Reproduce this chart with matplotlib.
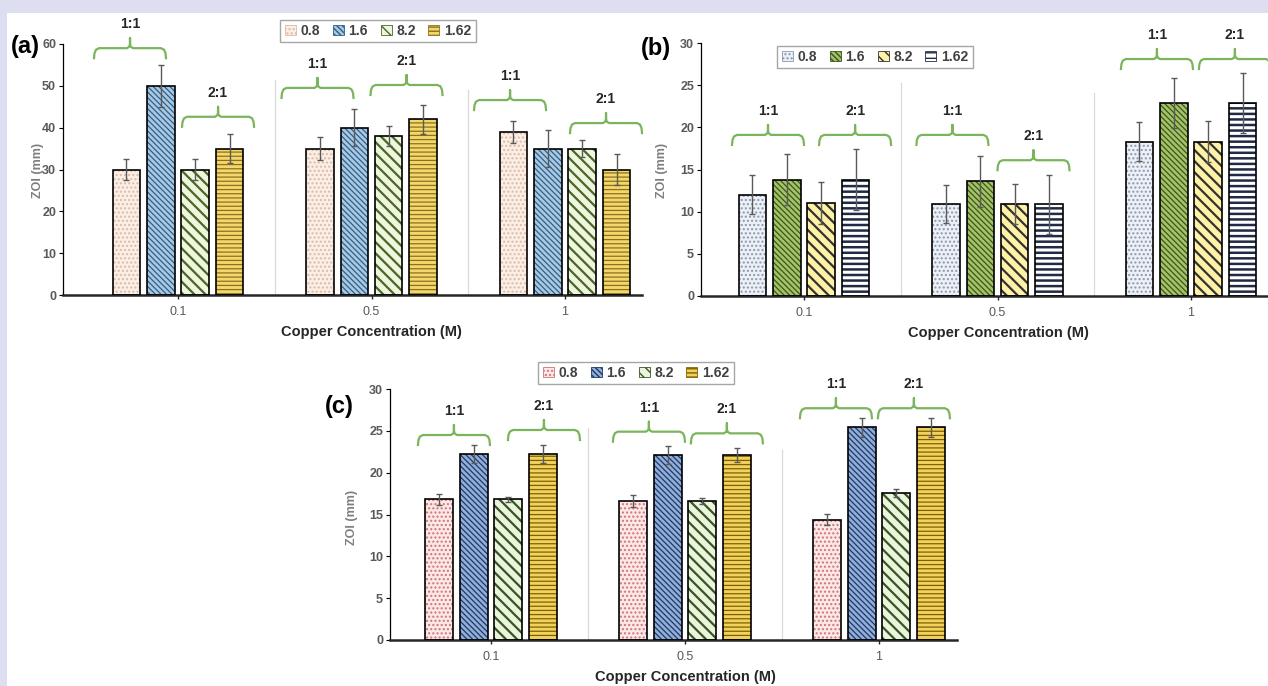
import numpy as np
import matplotlib
matplotlib.use("Agg")
import matplotlib.pyplot as plt
from matplotlib.patches import Rectangle, Patch

plt.rcParams['font.family'] = ['Liberation Sans', 'DejaVu Sans']
plt.rcParams['hatch.linewidth'] = 1.0

W, H = 1268, 686

GROUPS = ['0.1', '0.5', '1']
SERIES = ['0.8', '1.6', '8.2', '1.62']
PAIR_LABELS = ['1:1', '2:1']

# ZOI means per series (rows) for Cu 0.1 / 0.5 / 1 M (columns)
A_MEANS = [[30, 35, 39], [50, 40, 35], [30, 38, 35], [35, 42, 30]]
A_ERRS = [[2.5, 2.7, 2.6], [5.0, 4.5, 4.5], [2.4, 2.3, 2.0], [3.5, 3.5, 3.6]]

B_MEANS = [[12.0, 10.9, 18.3], [13.8, 13.6, 22.9], [11.0, 10.9, 18.3], [13.8, 10.9, 22.9]]
B_ERRS = [[2.3, 2.3, 2.3], [3.0, 3.0, 3.0], [2.5, 2.4, 2.4], [3.6, 3.5, 3.6]]

C_MEANS = [[16.8, 16.6, 14.4], [22.2, 22.1, 25.4], [16.8, 16.6, 17.6], [22.2, 22.1, 25.4]]
C_ERRS = [[0.7, 0.7, 0.7], [1.1, 1.1, 1.1], [0.35, 0.35, 0.45], [1.1, 0.8, 1.1]]

# (face, hatch colour, hatch, hatch width) per series
A_STYLES = [('#FAEFE6', '#E0B8A4', '....', 1.0), ('#A9C9E2', '#2F5F8A', '\\' * 6, 0.9),
            ('#EFF6DE', '#4A6628', '\\' * 3, 1.6), ('#F4D76A', '#8A7020', '----', 0.9)]
B_STYLES = [('#EDF1F6', '#8A98B0', '....', 1.0), ('#A4C266', '#3A5520', '\\' * 6, 0.9),
            ('#FFF1A6', '#333333', '\\' * 3, 1.6), ('#FFFFFF', '#1F2A44', '---', 1.8)]
C_STYLES = [('#FBE8E8', '#D27474', '....', 1.0), ('#91AEDB', '#1F3864', '\\' * 6, 0.9),
            ('#EBF4DC', '#375623', '\\' * 3, 1.6), ('#F1D25E', '#7F6000', '----', 0.9)]

BRACKET_C = '#7AB55C'
SLOT = 0.178
BAR_W = 0.142

# bracket polyline in pixels, relative to the bracket centre
BR_X = [-36, -35.5, -34, -31, -3, -0.8, 0, 0, 0, 0.8, 3, 31, 34, 35.5, 36]
BR_Y = [-10, -5, -1.5, 0, 0, 1.5, 4, 10, 4, 1.5, 0, 0, -1.5, -5, -10]


def draw_panel(fig, lay, means, errs, styles):
    left, top, right, bottom = lay['box']
    c0, step, ymax, ystep = lay['c0'], lay['step'], lay['ymax'], lay['ystep']
    ax = fig.add_axes([left / W, 1 - bottom / H, (right - left) / W, (bottom - top) / H])
    ax.set_facecolor('none')
    ax.set_xlim((left - c0) / step, (right - c0) / step)
    ax.set_ylim(0, ymax)
    ux = 1 / step
    uy = ymax / (bottom - top)

    x = np.arange(len(GROUPS))
    for i, (vals, err, (face, hcol, hatch, hlw)) in enumerate(zip(means, errs, styles)):
        xs = x + (i - 1.5) * SLOT
        with plt.rc_context({'hatch.linewidth': hlw}):
            ax.bar(xs, vals, BAR_W, color=face, edgecolor=hcol, hatch=hatch, linewidth=0, zorder=2)
        ax.bar(xs, vals, BAR_W, facecolor='none', edgecolor='black', linewidth=1.2, zorder=3)
        ax.errorbar(xs, vals, yerr=err, fmt='none', ecolor='#5A5A5A', elinewidth=1,
                    capsize=2.5, capthick=1, zorder=4)

    for k, top_val in enumerate(lay['sep_top']):
        ax.plot([k + 0.5, k + 0.5], [0, top_val], color='#D9D9D9', lw=0.9, zorder=1)

    for j, (dx, by) in enumerate(zip(lay['br_dx'], lay['br_y'])):
        cx = j // 2 + dx
        ax.plot([cx + p * ux for p in BR_X], [by + q * uy for q in BR_Y], color=BRACKET_C,
                lw=1.6, clip_on=False, zorder=5, solid_joinstyle='round')
        ax.text(cx, by + 24 * uy, PAIR_LABELS[j % 2], ha='center', va='center', fontsize=10,
                fontweight='bold', color='#262626', clip_on=False)

    ax.spines[['top', 'right']].set_visible(False)
    ax.spines['left'].set_color('black')
    ax.spines['left'].set_linewidth(0.9)
    ax.spines['bottom'].set_color('#262626')
    ax.spines['bottom'].set_linewidth(1.8)
    ax.set_xticks(x, GROUPS)
    ax.set_yticks(range(0, ymax + 1, ystep))
    ax.tick_params(axis='x', length=3, width=1, color='#262626', labelsize=9,
                   labelcolor='#595959', pad=5)
    ax.tick_params(axis='y', length=3, width=0.8, labelsize=9, labelcolor='#595959', pad=2)
    for lbl in ax.get_yticklabels():
        lbl.set_fontweight('bold')

    lx, ly = lay['letter_xy']
    fig.text(lx / W, 1 - ly / H, lay['letter'], ha='center', va='center', fontsize=17,
             fontweight='bold', color='black')
    yx, yy = lay['ylabel_xy']
    fig.text(yx / W, 1 - yy / H, 'ZOI (mm)', rotation=90, ha='center', va='center',
             fontsize=9, fontweight='bold', color='#7F7F7F')
    xx, xy = lay['xlabel_xy']
    fig.text(xx / W, 1 - xy / H, 'Copper Concentration (M)', ha='center', va='center',
             fontsize=10.5, fontweight='bold', color='#262626')

    handles = []
    for f, h, p, hlw in styles:
        with plt.rc_context({'hatch.linewidth': hlw}):
            handles.append(Patch(facecolor=f, edgecolor=h, hatch=p, linewidth=0.6))
    gx, gy = lay['legend_xy']
    fig.legend(handles, SERIES, loc='center', bbox_to_anchor=(gx / W, 1 - gy / H), ncol=4,
               frameon=True, fancybox=False, edgecolor='#A6A6A6', framealpha=1,
               prop={'weight': 'bold', 'size': 10}, labelcolor='#404040',
               handlelength=0.8, handleheight=0.8, handletextpad=0.35, columnspacing=0.9,
               borderpad=0.3, borderaxespad=0)
    return ax


LAYOUT_A = dict(box=(63, 44, 642, 295), c0=178, step=193.5, ymax=60, ystep=10,
                sep_top=[51.4, 49.0],
                br_dx=[-0.248, 0.207, -0.279, 0.181, -0.284, 0.212],
                br_y=[59.0, 42.6, 49.5, 50.2, 46.6, 41.1],
                letter='(a)', letter_xy=(25, 47), ylabel_xy=(38, 170),
                xlabel_xy=(371, 332), legend_xy=(378, 31))
LAYOUT_B = dict(box=(701, 43, 1268, 296), c0=804, step=193.5, ymax=30, ystep=5,
                sep_top=[25.3, 24.1],
                br_dx=[-0.186, 0.264, -0.233, 0.186, -0.176, 0.227],
                br_y=[19.1, 19.1, 19.1, 16.1, 28.1, 28.1],
                letter='(b)', letter_xy=(656, 48), ylabel_xy=(662, 170),
                xlabel_xy=(998, 333), legend_xy=(875, 57))
LAYOUT_C = dict(box=(390, 389, 957, 640), c0=491, step=194, ymax=30, ystep=5,
                sep_top=[25.3, 22.7],
                br_dx=[-0.191, 0.273, -0.186, 0.216, -0.222, 0.180],
                br_y=[24.5, 25.1, 24.9, 24.7, 27.7, 27.7],
                letter='(c)', letter_xy=(339, 406), ylabel_xy=(352, 517),
                xlabel_xy=(685, 677), legend_xy=(636, 373))

fig = plt.figure(figsize=(W / 100, H / 100), dpi=100, facecolor='#DDDFF0')
fig.patches.append(Rectangle((7 / W, 0), 1, 1 - 13 / H, transform=fig.transFigure,
                             facecolor='white', edgecolor='none', zorder=-10))

draw_panel(fig, LAYOUT_A, A_MEANS, A_ERRS, A_STYLES)
draw_panel(fig, LAYOUT_B, B_MEANS, B_ERRS, B_STYLES)
draw_panel(fig, LAYOUT_C, C_MEANS, C_ERRS, C_STYLES)

fig.savefig('out.png', dpi=100, facecolor=fig.get_facecolor())
